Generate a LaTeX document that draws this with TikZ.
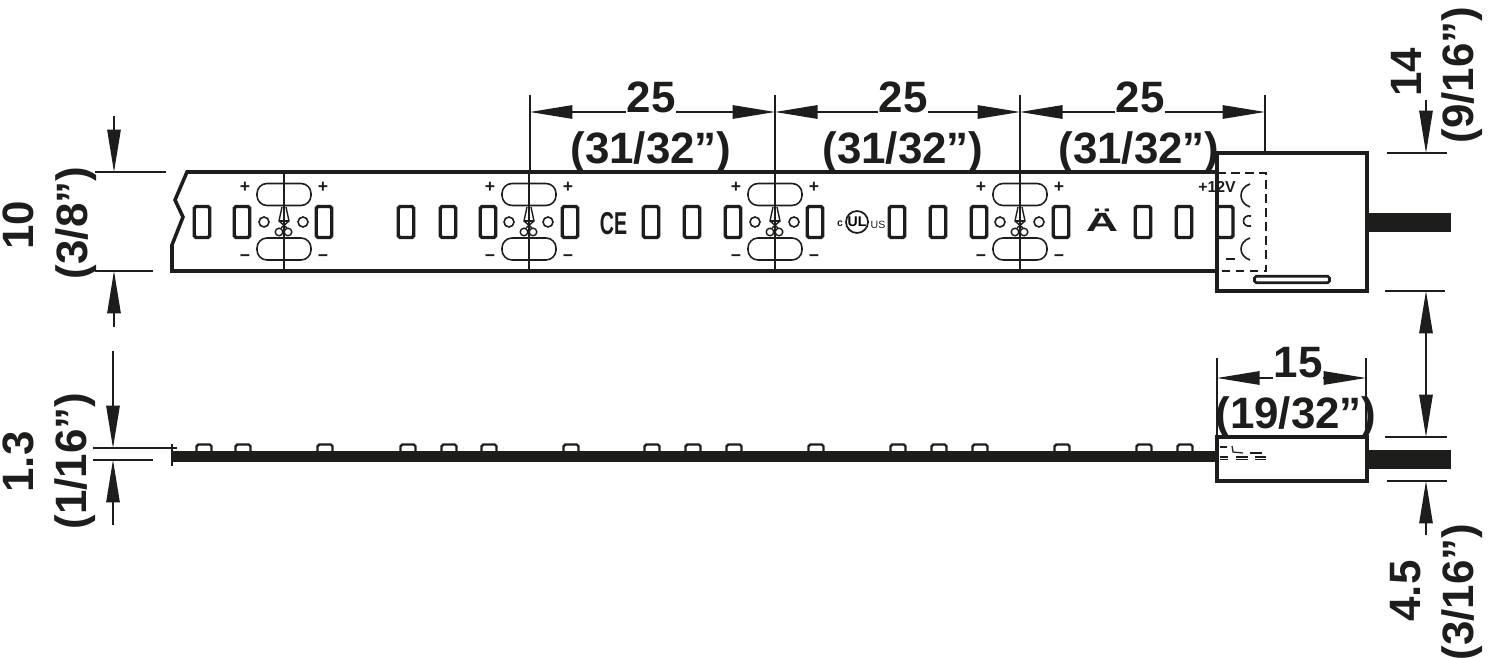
\documentclass[tikz,border=0pt]{standalone}
\usepackage{fontspec}
\setmainfont{Liberation Sans}
\usetikzlibrary{arrows.meta}
\definecolor{ink}{HTML}{1D1D1B}
\tikzset{thick line/.style={draw=ink, line width=2pt},
  thin line/.style={draw=ink, line width=0.75pt},
  ext/.style={thin line},
  dimarrow/.style={thin line, -{Triangle[length=0.85cm, width=0.27cm]}},
  dimtext/.style={font=\fontsize{25}{30}\selectfont\bfseries, text=ink, inner sep=0pt},
  led/.style={draw=ink, line width=1.9pt, rounded corners=1pt, minimum width=0.31cm, minimum height=0.62cm, inner sep=0pt},
  bump/.style={draw=ink, line width=1.4pt, rounded corners=1pt, fill=white, minimum width=0.3cm, minimum height=0.18cm, inner sep=0pt},
  pill/.style={draw=ink, line width=0.9pt, rounded corners=0.2cm, minimum width=1.08cm, minimum height=0.44cm, inner sep=0pt},
  sign/.style={font=\fontsize{10}{10}\selectfont\bfseries, text=ink, inner sep=0pt}}
\begin{document}
\begin{tikzpicture}[x=0.02cm, y=-0.02cm]
\useasboundingbox (0,0) rectangle (1488,658);
% top view
\draw[thick line] (1217,172) -- (187,172) -- (175,200) -- (183,217) -- (172,245) -- (172,271) -- (1217,271);
\foreach \x in {202,242,324,406,448,488,570,651,692,733,815,897,938,979,1061,1143,1184}
  \node[led] (led\x) at (\x,222) {};
\node[led, minimum width=0.32cm] (led1224) at (1225,222) {};
% cut marks
\foreach \x/\n in {284/a,529/b,775/c,1020/d} {
  \node[pill] (pillT\n) at (\x,194.5) {};
  \node[pill] (pillB\n) at (\x,249) {};
  \draw[ink, line width=0.9pt] (\x-20,222) circle (5);
  \draw[ink, line width=0.9pt] (\x+19,222) circle (5);
  \draw[ink, line width=0.8pt] (\x-5,232) circle (3.8);
  \draw[ink, line width=0.8pt] (\x+4,232) circle (3.8);
  \draw[ink, line width=0.8pt] (\x-2,207) -- (\x-5,221) -- (\x+3,228);
  \draw[ink, line width=0.8pt] (\x+2,207) -- (\x+5,221) -- (\x-3,228);
  \draw[ink, line width=0.8pt] (\x-5,221) -- (\x+5,221);
  \node[sign] (plusL\n) at (\x-39,187) {+};
  \node[sign] (plusR\n) at (\x+39,187) {+};
  \node[sign] (minusL\n) at (\x-39,258) {\textminus};
  \node[sign] (minusR\n) at (\x+39,258) {\textminus};
  \draw[thin line] (\x,172) -- (\x,271);
}
% marks on the strip
\node[font=\fontsize{18}{18}\selectfont\bfseries, text=ink, inner sep=0pt, xscale=0.62] (markCE) at (613.5,223.5) {CE};
\node[draw=ink, line width=1pt, circle, minimum size=0.44cm, inner sep=0pt, font=\fontsize{8}{8}\selectfont\bfseries] (markUL) at (857,222) {UL};
\node[font=\fontsize{6}{6}\selectfont\bfseries, text=ink, inner sep=0pt] (markC) at (840,224) {c};
\node[font=\fontsize{6}{6}\selectfont, text=ink, inner sep=0pt] (markUS) at (878,225) {US};
\node[font=\fontsize{15}{15}\selectfont\bfseries, text=ink, inner sep=0pt, xscale=1.7] (markA) at (1102,220) {Ä};
% end cap, top
\node[draw=ink, line width=1.9pt, minimum width=3cm, minimum height=2.76cm, inner sep=0pt] (capT) at (1292,222) {};
\node[fill=ink, minimum width=1.68cm, minimum height=0.38cm, inner sep=0pt] (cableT) at (1409,222.5) {};
\draw[ink, line width=0.9pt, dash pattern=on 5pt off 3pt] (1217,173) -- (1266,173) -- (1266,271) -- (1217,271);
\draw[ink, line width=0.9pt] (1250,184) .. controls (1238,188) and (1238,203) .. (1250,207);
\draw[ink, line width=0.9pt] (1251,216) .. controls (1241,214) and (1241,228) .. (1251,226);
\draw[ink, line width=0.9pt] (1250,238) .. controls (1238,242) and (1238,256) .. (1250,260);
\draw[ink, line width=0.9pt] (1226,259) -- (1235,259);
\node[draw=ink, line width=1.5pt, rounded corners=1pt, minimum width=1.5cm, minimum height=0.13cm, inner sep=0pt] (slot) at (1292,279.5) {};
\node[font=\fontsize{9}{9}\selectfont\bfseries, text=ink, inner sep=0pt] (label12) at (1217,187) {+12V};
% side view
\foreach \x in {204,243,325,408,449,489,571,652,693,734,816,898,939,980,1062,1144,1185}
  \node[bump] (bump\x) at (\x,449) {};
\node[fill=ink, minimum width=20.9cm, minimum height=0.22cm, inner sep=0pt] (stripS) at (694.5,456.5) {};
\draw[thin line] (172,444) -- (172,466);
\node[draw=ink, line width=1.9pt, minimum width=3cm, minimum height=0.88cm, inner sep=0pt] (capS) at (1292,459) {};
\node[fill=ink, minimum width=1.68cm, minimum height=0.38cm, inner sep=0pt] (cableS) at (1409,459.5) {};
\foreach \xa/\xb in {1220/1228,1236/1248,1255/1266} {
  \draw[ink, line width=0.7pt] (\xa,457) -- (\xb,457);
  \draw[ink, line width=0.7pt] (\xa,459.5) -- (\xb,459.5);
}
\draw[ink, line width=0.7pt] (1220,447) -- (1227,447);
\draw[ink, line width=0.7pt] (1232,446) -- (1233,452) -- (1243,453);
\draw[ink, line width=0.7pt] (1250,453) -- (1262,453);
% dimensions, top
\coordinate (top1) at (530,112);
\coordinate (top2) at (775,112);
\coordinate (top3) at (1020,112);
\coordinate (top4) at (1265,112);
\draw[ext] (530,95) -- (530,172);
\draw[ext] (775,95) -- (775,172);
\draw[ext] (1020,95) -- (1020,172);
\draw[ext] (1265,95) -- (1265,153);
\node[dimtext] (pitchA) at (651,97) {25};
\node[dimtext] (pitchB) at (903,97) {25};
\node[dimtext] (pitchC) at (1140,97) {25};
\node[dimtext] (inchA) at (651,152) {(31/32”)};
\node[dimtext] (inchB) at (903,152) {(31/32”)};
\node[dimtext] (inchC) at (1139,152) {(31/32”)};
\draw[dimarrow] (pitchA.west |- top1) -- (top1);
\draw[dimarrow] (pitchA.east |- top1) -- (top2);
\draw[dimarrow] (pitchB.west |- top2) -- (top2);
\draw[dimarrow] (pitchB.east |- top2) -- (top3);
\draw[dimarrow] (pitchC.west |- top3) -- (top3);
\draw[dimarrow] (pitchC.east |- top3) -- (top4);
% dimensions, left
\coordinate (wideT) at (114,172);
\coordinate (wideB) at (114,271);
\coordinate (wideTs) at (114,116);
\coordinate (wideBs) at (114,327);
\draw[ext] (95,172) -- (166,172);
\draw[ext] (95,271) -- (153,271);
\draw[dimarrow] (wideTs) -- (wideT);
\draw[dimarrow] (wideBs) -- (wideB);
\node[dimtext, rotate=90] (wideA) at (18,225) {10};
\node[dimtext, rotate=90] (wideI) at (76,223) {(3/8”)};
\coordinate (thinT) at (113,448);
\coordinate (thinB) at (113,460);
\coordinate (thinTs) at (113,351);
\coordinate (thinBs) at (113,525);
\draw[ext] (93,448) -- (177,448);
\draw[ext] (93,460) -- (153,460);
\draw[dimarrow] (thinTs) -- (thinT);
\draw[dimarrow] (thinBs) -- (thinB);
\node[dimtext, rotate=90] (thinA) at (18,462) {1.3};
\node[dimtext, rotate=90] (thinI) at (75,461) {(1/16”)};
% dimensions, end cap
\coordinate (capL) at (1217,378);
\coordinate (capR) at (1366,378);
\draw[ext] (1217,358) -- (1217,437);
\draw[ext] (1366,358) -- (1366,437);
\node[dimtext] (capA) at (1298,363) {15};
\node[dimtext] (capI) at (1296,417) {(19/32”)};
\draw[dimarrow] (capA.west |- capL) -- (capL);
\draw[dimarrow] (capA.east |- capL) -- (capR);
% dimensions, right
\coordinate (rA) at (1426,153);
\coordinate (rB) at (1426,291);
\coordinate (rC) at (1426,437);
\coordinate (rD) at (1426,481);
\coordinate (rAs) at (1426,100);
\coordinate (rDs) at (1426,535);
\draw[ext] (1387,153) -- (1447,153);
\draw[ext] (1385,291) -- (1445,291);
\draw[ext] (1385,437) -- (1447,437);
\draw[ext] (1387,481) -- (1447,481);
\draw[dimarrow] (rAs) -- (rA);
\draw[thin line, {Triangle[length=0.85cm, width=0.27cm]}-{Triangle[length=0.85cm, width=0.27cm]}] (rB) -- (rC);
\draw[dimarrow] (rDs) -- (rD);
\node[dimtext, rotate=90] (rightA) at (1406,72) {14};
\node[dimtext, rotate=90] (rightI) at (1462,75) {(9/16”)};
\node[dimtext, rotate=90] (lowA) at (1406,591) {4.5};
\node[dimtext, rotate=90] (lowI) at (1462,592) {(3/16”)};
\end{tikzpicture}
\end{document}
